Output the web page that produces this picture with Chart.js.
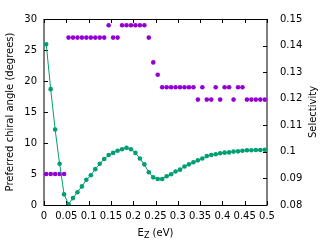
<!DOCTYPE html>
<html>
<head>
<meta charset="utf-8">
<script src="https://cdn.jsdelivr.net/npm/chart.js@4/dist/chart.umd.min.js"></script>
<style>
  body { margin: 0; background: #fff; }
  #chart { display: block; }
</style>
</head>
<body>
<canvas id="chart" width="336" height="250"></canvas>
<script>
// field strength E_Z (eV), one sample per 0.01 step
const ez = [
    0.005, 0.015, 0.025, 0.035, 0.045, 0.055, 0.065, 0.075, 0.085, 0.095,
    0.105, 0.115, 0.125, 0.135, 0.145, 0.155, 0.165, 0.175, 0.185, 0.195,
    0.205, 0.215, 0.225, 0.235, 0.245, 0.255, 0.265, 0.275, 0.285, 0.295,
    0.305, 0.315, 0.325, 0.335, 0.345, 0.355, 0.365, 0.375, 0.385, 0.395,
    0.405, 0.415, 0.425, 0.435, 0.445, 0.455, 0.465, 0.475, 0.485, 0.495,
];

// preferred chiral angle (degrees), left axis
const chiralAngle = [
    5, 5, 5, 5, 5, 27, 27, 27, 27, 27,
    27, 27, 27, 27, 29, 27, 27, 29, 29, 29,
    29, 29, 29, 27, 23, 21, 19, 19, 19, 19,
    19, 19, 19, 19, 17, 19, 17, 17, 19, 17,
    19, 19, 17, 19, 19, 17, 17, 17, 17, 17,
];

// selectivity, right axis
const selectivity = [
    0.1405, 0.1236, 0.1084, 0.0955, 0.0840, 0.0803, 0.0826, 0.0848, 0.0870, 0.0895,
    0.0912, 0.0935, 0.0955, 0.0973, 0.0988, 0.0996, 0.1004, 0.1010, 0.1015, 0.1010,
    0.0996, 0.0975, 0.0953, 0.0923, 0.0904, 0.0898, 0.0898, 0.0908, 0.0916, 0.0926,
    0.0933, 0.0945, 0.0953, 0.0961, 0.0968, 0.0975, 0.0984, 0.0988, 0.0991, 0.0995,
    0.0997, 0.0998, 0.1001, 0.1002, 0.1004, 0.1006, 0.1006, 0.1007, 0.1007, 0.1008,
];

const FONT = "'DejaVu Sans', sans-serif";
Chart.defaults.font.family = FONT;
Chart.defaults.font.size = 10;
Chart.defaults.color = "#000";

function trimNum(v) {
    return String(parseFloat(v.toFixed(2)));
}

// gnuplot-like frame: border, inward ticks, x label with subscript, right label
const framePlugin = {
    id: "frame",
    beforeDatasetsDraw(chart) {
        const { ctx, chartArea: a, scales } = chart;
        ctx.save();
        ctx.strokeStyle = "#000";
        ctx.lineWidth = 1;
        ctx.beginPath();
        ctx.moveTo(a.left, a.top);
        ctx.lineTo(a.left, a.bottom + 1);
        ctx.moveTo(a.right, a.top);
        ctx.lineTo(a.right, a.bottom + 1);
        ctx.moveTo(a.left, a.top + 0.5);
        ctx.lineTo(a.right, a.top + 0.5);
        ctx.moveTo(a.left, a.bottom + 0.5);
        ctx.lineTo(a.right, a.bottom + 0.5);

        const tl = 4;
        scales.x.ticks.forEach(t => {
            const px = Math.round(scales.x.getPixelForValue(t.value)) + 0.5;
            ctx.moveTo(px, a.bottom);
            ctx.lineTo(px, a.bottom - tl);
            ctx.moveTo(px, a.top);
            ctx.lineTo(px, a.top + tl);
        });
        scales.y.ticks.forEach(t => {
            const py = Math.round(scales.y.getPixelForValue(t.value)) + 0.5;
            ctx.moveTo(a.left, py);
            ctx.lineTo(a.left + tl, py);
        });
        scales.y1.ticks.forEach(t => {
            const py = Math.round(scales.y1.getPixelForValue(t.value)) + 0.5;
            ctx.moveTo(a.right, py);
            ctx.lineTo(a.right - tl, py);
        });
        ctx.stroke();
        ctx.restore();
    },
    afterDraw(chart) {
        const { ctx, chartArea: a } = chart;
        ctx.save();
        ctx.fillStyle = "#000";
        ctx.textBaseline = "middle";

        // E_Z (eV)
        const big = "10px " + FONT, small = "8px " + FONT;
        ctx.font = big;
        const wE = ctx.measureText("E").width;
        const wRest = ctx.measureText(" (eV)").width;
        ctx.font = small;
        const wZ = ctx.measureText("Z").width;
        let x = (a.left + a.right) / 2 - (wE + wZ + wRest) / 2;
        const y = 233;
        ctx.textAlign = "left";
        ctx.font = big;
        ctx.fillText("E", x, y);
        ctx.font = small;
        ctx.fillText("Z", x + wE, y + 3);
        ctx.font = big;
        ctx.fillText(" (eV)", x + wE + wZ, y);

        // Selectivity, reading upward
        ctx.translate(313, (a.top + a.bottom) / 2);
        ctx.rotate(-Math.PI / 2);
        ctx.textAlign = "center";
        ctx.fillText("Selectivity", 0, 0);
        ctx.restore();
    },
};

new Chart(document.getElementById("chart"), {
    type: "scatter",
    data: {
        datasets: [
            {
                label: "Selectivity",
                data: ez.map((v, i) => ({ x: v, y: selectivity[i] })),
                yAxisID: "y1",
                showLine: true,
                borderColor: "#009e73",
                borderWidth: 1,
                backgroundColor: "#009e73",
                pointRadius: 2.3,
                pointBorderWidth: 0,
                order: 0,
            },
            {
                label: "Chiral angle",
                data: ez.map((v, i) => ({ x: v, y: chiralAngle[i] })),
                yAxisID: "y",
                showLine: false,
                backgroundColor: "#9400d3",
                pointRadius: 2.3,
                pointBorderWidth: 0,
                order: 1,
            },
        ],
    },
    options: {
        responsive: false,
        animation: false,
        layout: { padding: { top: 12, left: 0, right: 0, bottom: 0 } },
        plugins: {
            legend: { display: false },
            tooltip: { enabled: false },
        },
        scales: {
            x: {
                type: "linear",
                min: 0,
                max: 0.5,
                grid: { display: false, drawTicks: false },
                border: { display: false },
                ticks: {
                    stepSize: 0.05,
                    padding: 5,
                    maxRotation: 0,
                    autoSkip: false,
                    callback: v => trimNum(v),
                },
                afterFit: s => { s.height = 45; },
            },
            y: {
                position: "left",
                min: 0,
                max: 30,
                grid: { display: false, drawTicks: false },
                border: { display: false },
                ticks: { stepSize: 5, padding: 7 },
                title: {
                    display: true,
                    text: "Preferred chiral angle (degrees)",
                    font: { size: 10 },
                    padding: { top: 4, bottom: 0 },
                },
                afterFit: s => { s.width = 44; },
            },
            y1: {
                position: "right",
                min: 0.08,
                max: 0.15,
                grid: { display: false, drawTicks: false },
                border: { display: false },
                ticks: {
                    stepSize: 0.01,
                    padding: 13,
                    callback: v => trimNum(v),
                },
                afterFit: s => { s.width = 69; },
            },
        },
    },
    plugins: [framePlugin],
});
</script>
</body>
</html>
